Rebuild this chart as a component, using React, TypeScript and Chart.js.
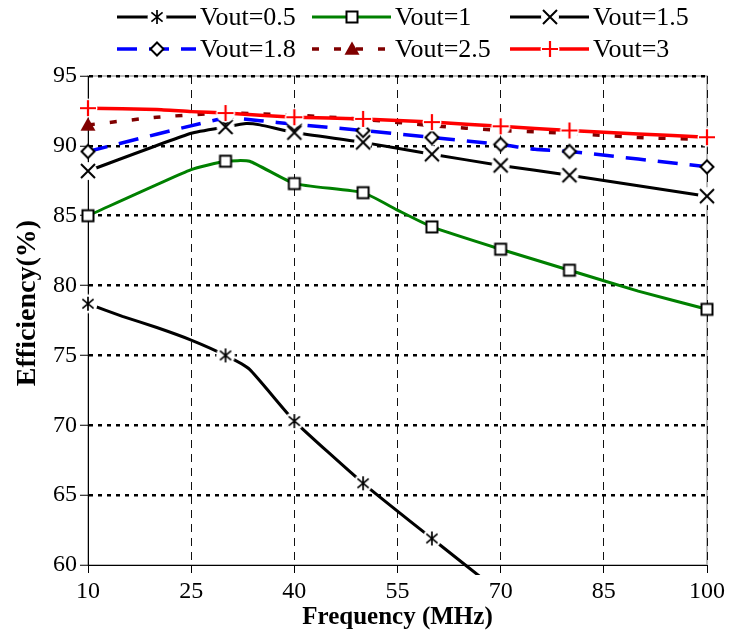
import React, { useEffect, useRef } from 'react';
import { Chart, registerables } from 'chart.js';

Chart.register(...registerables);

// ---------- data ----------
const xTicks = [10, 25, 40, 55, 70, 85, 100];
const yTicks = [60, 65, 70, 75, 80, 85, 90, 95];
const seriesNames = ['Vout=0.5', 'Vout=1', 'Vout=1.5', 'Vout=1.8', 'Vout=2.5', 'Vout=3'];

const freq05 = [10, 15, 20, 25, 30, 33.5, 40, 50, 60, 70];
const eff05 = [78.7, 77.8, 77.0, 76.1, 75.0, 74.0, 70.3, 65.85, 61.9, 58.0];

const freq1 = [10, 25, 30, 33.5, 40, 50, 55, 60, 70, 80, 90, 100];
const eff1 = [85.0, 88.3, 88.9, 88.9, 87.3, 86.65, 85.4, 84.2, 82.6, 81.1, 79.6, 78.3];

const freq15 = [10, 25, 30, 33, 35, 40, 50, 60, 70, 80, 100];
const eff15 = [88.2, 90.9, 91.35, 91.6, 91.5, 90.95, 90.25, 89.4, 88.6, 87.9, 86.4];

const freq18 = [10, 30, 35, 40, 50, 60, 70, 75, 80, 100];
const eff18 = [89.6, 92.0, 91.8, 91.55, 91.1, 90.6, 90.1, 89.75, 89.6, 88.5];

const freq25 = [10, 20, 30, 40, 50, 60, 70, 80, 90, 100];
const eff25 = [91.5, 92.05, 92.35, 92.2, 91.9, 91.45, 91.1, 90.9, 90.6, 90.45];

const freq3 = [10, 20, 25, 30, 40, 50, 60, 70, 80, 90, 100];
const eff3 = [92.7, 92.6, 92.45, 92.35, 92.05, 91.93, 91.7, 91.4, 91.1, 90.85, 90.62];

const markedFreqs = [10, 30, 40, 50, 60, 70, 80, 100];
const markedFreqs25 = [10];

const FONT = '"Liberation Serif", "Times New Roman", serif';

function makeMarker(kind: string, color: string, halo: number): HTMLCanvasElement {
  const S = 26;
  const c = document.createElement('canvas');
  c.width = S;
  c.height = S;
  const g = c.getContext('2d') as CanvasRenderingContext2D;
  const m = S / 2;
  if (halo > 0) {
    g.fillStyle = '#fff';
    g.beginPath();
    g.arc(m, m, halo, 0, Math.PI * 2);
    g.fill();
  }
  g.strokeStyle = color;
  g.fillStyle = color;
  if (kind === 'star') {
    const r = 7;
    g.lineWidth = 1.7;
    g.beginPath();
    g.moveTo(m - r * 0.8, m - r * 0.65);
    g.lineTo(m + r * 0.8, m + r * 0.65);
    g.moveTo(m + r * 0.8, m - r * 0.65);
    g.lineTo(m - r * 0.8, m + r * 0.65);
    g.moveTo(m, m - r);
    g.lineTo(m, m + r);
    g.stroke();
  } else if (kind === 'square') {
    const r = 5.5;
    g.fillStyle = '#fff';
    g.fillRect(m - r, m - r, 2 * r, 2 * r);
    g.lineWidth = 2;
    g.strokeStyle = '#000';
    g.strokeRect(m - r, m - r, 2 * r, 2 * r);
  } else if (kind === 'cross') {
    const r = 7;
    g.lineWidth = 2;
    g.beginPath();
    g.moveTo(m - r, m - r);
    g.lineTo(m + r, m + r);
    g.moveTo(m + r, m - r);
    g.lineTo(m - r, m + r);
    g.stroke();
  } else if (kind === 'diamond') {
    const r = 6.5;
    g.fillStyle = '#fff';
    g.strokeStyle = '#000';
    g.lineWidth = 2;
    g.beginPath();
    g.moveTo(m, m - r);
    g.lineTo(m + r, m);
    g.lineTo(m, m + r);
    g.lineTo(m - r, m);
    g.closePath();
    g.fill();
    g.stroke();
  } else if (kind === 'triangle') {
    const r = 7.5;
    g.beginPath();
    g.moveTo(m, m - r);
    g.lineTo(m + r, m + r * 0.75);
    g.lineTo(m - r, m + r * 0.75);
    g.closePath();
    g.fill();
  } else if (kind === 'plus') {
    const r = 8;
    g.lineWidth = 2.2;
    g.beginPath();
    g.moveTo(m - r, m);
    g.lineTo(m + r, m);
    g.moveTo(m, m - r);
    g.lineTo(m, m + r);
    g.stroke();
  }
  return c;
}

export default function App() {
  const ref = useRef<HTMLCanvasElement | null>(null);

  useEffect(() => {
    if (!ref.current) return;

    const styles = [
      { color: '#000000', width: 3, dash: [] as number[], marker: makeMarker('star', '#000', 9.5), marks: markedFreqs },
      { color: '#008000', width: 3, dash: [] as number[], marker: makeMarker('square', '#000', 0), marks: markedFreqs },
      { color: '#000000', width: 3, dash: [] as number[], marker: makeMarker('cross', '#000', 9), marks: markedFreqs },
      { color: '#0000ff', width: 3.5, dash: [20, 12], marker: makeMarker('diamond', '#000', 0), marks: markedFreqs },
      { color: '#800000', width: 3.5, dash: [7, 15], marker: makeMarker('triangle', '#800000', 0), marks: markedFreqs25 },
      { color: '#ff0000', width: 3.5, dash: [] as number[], marker: makeMarker('plus', '#ff0000', 9.5), marks: markedFreqs },
    ];
    const freqs = [freq05, freq1, freq15, freq18, freq25, freq3];
    const effs = [eff05, eff1, eff15, eff18, eff25, eff3];

    const datasets = seriesNames.map((name, i) => {
      const st = styles[i];
      return {
        label: name,
        data: freqs[i].map((f, j) => ({ x: f, y: effs[i][j] })),
        borderColor: st.color,
        backgroundColor: st.color,
        borderWidth: st.width,
        borderDash: st.dash,
        tension: 0.15,
        fill: false,
        order: 6 - i,
        clip: { left: 14, top: 14, right: 14, bottom: 10 },
        pointStyle: st.marker,
        pointRadius: (c: any) => (c.raw && st.marks.includes(c.raw.x) ? 6 : 0),
        pointHoverRadius: 0,
      };
    });

    const decor = {
      id: 'decor',
      beforeDraw(chart: any) {
        const { ctx, chartArea: a } = chart;
        ctx.save();
        ctx.fillStyle = '#fff';
        ctx.fillRect(0, 0, chart.width, chart.height);
        ctx.strokeStyle = '#a6a6a6';
        ctx.lineWidth = 1.5;
        ctx.strokeRect(a.left, a.top, a.right - a.left, a.bottom - a.top);
        ctx.restore();
      },
      afterDraw(chart: any) {
        const ctx = chart.ctx as CanvasRenderingContext2D;
        ctx.save();
        const colX = [117, 312, 510];
        const rowY = [17, 49];
        const len = 79;
        seriesNames.forEach((name, i) => {
          const st = styles[i];
          const x0 = colX[i % 3];
          const y = rowY[Math.floor(i / 3)];
          ctx.strokeStyle = st.color;
          ctx.lineWidth = st.width;
          ctx.setLineDash(st.dash);
          ctx.beginPath();
          ctx.moveTo(x0, y);
          ctx.lineTo(x0 + len, y);
          ctx.stroke();
          ctx.setLineDash([]);
          const mk = st.marker;
          ctx.drawImage(mk, Math.round(x0 + len / 2 - mk.width / 2), Math.round(y - mk.height / 2));
          ctx.fillStyle = '#000';
          ctx.font = `26px ${FONT}`;
          ctx.textAlign = 'left';
          ctx.textBaseline = 'middle';
          ctx.fillText(name, x0 + len + 4, y + 1);
        });
        // y axis title
        ctx.translate(28, 303);
        ctx.rotate(-Math.PI / 2);
        ctx.font = `bold 28px ${FONT}`;
        ctx.textAlign = 'center';
        ctx.textBaseline = 'middle';
        ctx.fillStyle = '#000';
        ctx.fillText('Efficiency(%)', 0, 0);
        ctx.restore();
      },
    };

    const chart = new Chart(ref.current, {
      type: 'line',
      data: { datasets: datasets as any },
      plugins: [decor],
      options: {
        animation: false,
        responsive: false,
        devicePixelRatio: 1,
        events: [],
        layout: { padding: { top: 76, right: 22, left: 0, bottom: 0 } },
        plugins: { legend: { display: false }, tooltip: { enabled: false }, title: { display: false } },
        scales: {
          x: {
            type: 'linear',
            min: xTicks[0],
            max: xTicks[xTicks.length - 1],
            afterBuildTicks: (axis: any) => {
              axis.ticks = xTicks.map((v) => ({ value: v }));
            },
            afterFit: (scale: any) => {
              scale.height = 68;
            },
            ticks: { font: { family: FONT, size: 24 }, color: '#000', padding: 4, maxRotation: 0, autoSkip: false },
            grid: {
              color: (c: any) => (c.tick && c.tick.value === xTicks[0] ? 'rgba(0,0,0,0)' : '#111'),
              lineWidth: 1,
              tickLength: 8,
              tickColor: '#000',
              tickWidth: 1,
            },
            border: { display: true, color: '#000', width: 1, dash: [8, 6] },
            title: {
              display: true,
              text: 'Frequency (MHz)',
              font: { family: FONT, size: 25, weight: 'bold' },
              color: '#000',
              padding: { top: 0, bottom: 0 },
            },
          },
          y: {
            type: 'linear',
            min: yTicks[0],
            max: yTicks[yTicks.length - 1],
            afterBuildTicks: (axis: any) => {
              axis.ticks = yTicks.map((v) => ({ value: v }));
            },
            afterFit: (scale: any) => {
              scale.width = 88;
            },
            ticks: { font: { family: FONT, size: 24 }, color: '#000', padding: 3 },
            grid: {
              color: (c: any) => (c.tick && c.tick.value === yTicks[0] ? 'rgba(0,0,0,0)' : '#000'),
              lineWidth: 2.5,
              tickLength: 8,
              tickColor: '#000',
              tickWidth: 1,
            },
            border: { display: true, color: '#000', width: 1, dash: [4, 5] },
          },
        },
      } as any,
    });

    return () => chart.destroy();
  }, []);

  return (
    <div style={{ position: 'absolute', left: 0, top: 0, width: 729, height: 633 }}>
      <canvas ref={ref} width={729} height={633} style={{ display: 'block' }} />
    </div>
  );
}
